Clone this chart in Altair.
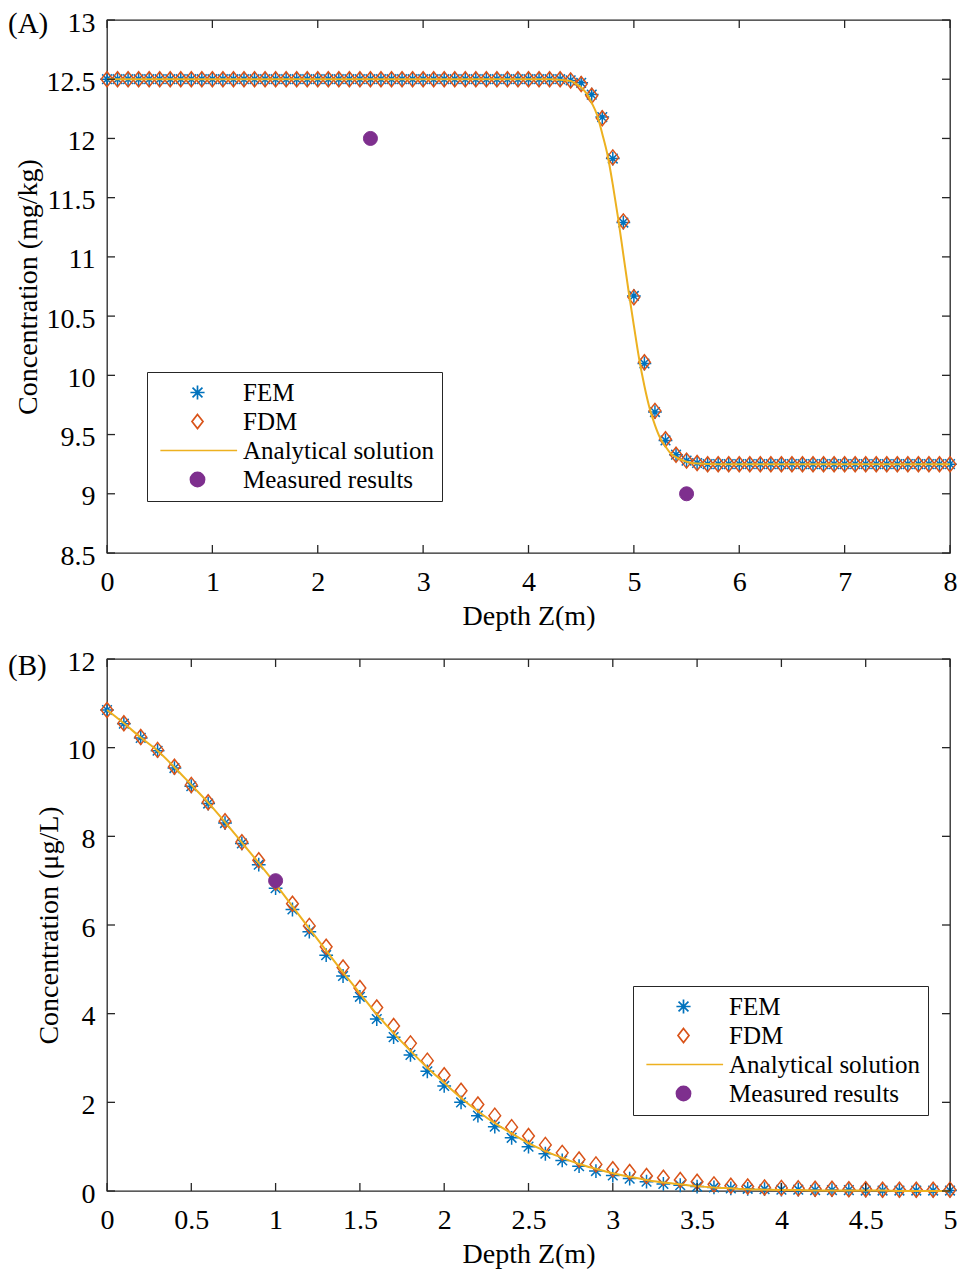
import altair as alt
import pandas as pd

FONT = "Liberation Serif"
INK = "#262626"

# ---------------- Panel A data ----------------
x_A = [round(i * 0.1, 1) for i in range(81)]          # depth grid 0..8, step 0.1
fem_A = [
    12.5, 12.5, 12.5, 12.5, 12.5, 12.5, 12.5, 12.5, 12.5, 12.5,
    12.5, 12.5, 12.5, 12.5, 12.5, 12.5, 12.5, 12.5, 12.5, 12.5,
    12.5, 12.5, 12.5, 12.5, 12.5, 12.5, 12.5, 12.5, 12.5, 12.5,
    12.5, 12.5, 12.5, 12.5, 12.5, 12.5, 12.5, 12.5, 12.5, 12.5,
    12.5, 12.5, 12.5, 12.5, 12.49, 12.47, 12.37, 12.18, 11.83, 11.29,
    10.67, 10.10, 9.69, 9.45, 9.33, 9.28, 9.26, 9.25, 9.25, 9.25,
    9.25, 9.25, 9.25, 9.25, 9.25, 9.25, 9.25, 9.25, 9.25, 9.25,
    9.25, 9.25, 9.25, 9.25, 9.25, 9.25, 9.25, 9.25, 9.25, 9.25,
    9.25,
]
fdm_A = [
    12.5, 12.5, 12.5, 12.5, 12.5, 12.5, 12.5, 12.5, 12.5, 12.5,
    12.5, 12.5, 12.5, 12.5, 12.5, 12.5, 12.5, 12.5, 12.5, 12.5,
    12.5, 12.5, 12.5, 12.5, 12.5, 12.5, 12.5, 12.5, 12.5, 12.5,
    12.5, 12.5, 12.5, 12.5, 12.5, 12.5, 12.5, 12.5, 12.5, 12.5,
    12.5, 12.5, 12.5, 12.5, 12.49, 12.46, 12.36, 12.17, 11.84, 11.30,
    10.66, 10.11, 9.70, 9.46, 9.33, 9.28, 9.26, 9.25, 9.25, 9.25,
    9.25, 9.25, 9.25, 9.25, 9.25, 9.25, 9.25, 9.25, 9.25, 9.25,
    9.25, 9.25, 9.25, 9.25, 9.25, 9.25, 9.25, 9.25, 9.25, 9.25,
    9.25,
]
an_A_x = [0.0, 1.0, 2.0, 3.0, 4.0, 4.2, 4.3, 4.4, 4.45, 4.5, 4.55, 4.6, 4.65, 4.7,
          4.75, 4.8, 4.85, 4.9, 4.95, 5.0, 5.05, 5.1, 5.15, 5.2, 5.25, 5.3, 5.35,
          5.4, 5.5, 5.6, 5.8, 6.0, 7.0, 8.0]
an_A_y = [12.5, 12.5, 12.5, 12.5, 12.5, 12.5, 12.495, 12.485, 12.46, 12.43, 12.38,
          12.30, 12.20, 12.04, 11.86, 11.61, 11.33, 11.02, 10.71, 10.42, 10.14, 9.91,
          9.72, 9.58, 9.47, 9.40, 9.34, 9.31, 9.27, 9.255, 9.25, 9.25, 9.25, 9.25]
meas_A_x = [2.5, 5.5]
meas_A_y = [12.0, 9.0]
xticks_A = [0, 1, 2, 3, 4, 5, 6, 7, 8]
yticks_A = [8.5, 9, 9.5, 10, 10.5, 11, 11.5, 12, 12.5, 13]

# ---------------- Panel B data ----------------
x_B = [round(i * 0.1, 1) for i in range(51)]          # depth grid 0..5, step 0.1
fem_B = [
    10.85, 10.54, 10.22, 9.93, 9.54, 9.13, 8.74, 8.30, 7.84, 7.36,
    6.83, 6.35, 5.85, 5.32, 4.85, 4.38, 3.88, 3.47, 3.07, 2.70,
    2.37, 2.00, 1.70, 1.45, 1.20, 1.00, 0.84, 0.69, 0.56, 0.45,
    0.35, 0.28, 0.21, 0.16, 0.13, 0.10, 0.08, 0.06, 0.05, 0.04,
    0.03, 0.03, 0.02, 0.02, 0.02, 0.01, 0.01, 0.01, 0.01, 0.01,
    0.01,
]
fdm_B = [
    10.85, 10.55, 10.24, 9.95, 9.57, 9.16, 8.77, 8.34, 7.87, 7.46,
    6.96, 6.48, 5.98, 5.51, 5.04, 4.58, 4.14, 3.72, 3.33, 2.94,
    2.61, 2.26, 1.95, 1.70, 1.44, 1.24, 1.04, 0.86, 0.71, 0.60,
    0.49, 0.43, 0.34, 0.30, 0.25, 0.21, 0.15, 0.12, 0.10, 0.08,
    0.07, 0.06, 0.05, 0.05, 0.04, 0.04, 0.03, 0.03, 0.03, 0.03,
    0.03,
]
an_B = [
    10.85, 10.55, 10.23, 9.93, 9.56, 9.16, 8.76, 8.32, 7.86, 7.40,
    6.92, 6.42, 5.92, 5.42, 4.93, 4.46, 3.99, 3.56, 3.16, 2.78,
    2.44, 2.10, 1.80, 1.53, 1.30, 1.08, 0.90, 0.75, 0.61, 0.50,
    0.40, 0.32, 0.25, 0.19, 0.15, 0.11, 0.08, 0.06, 0.04, 0.03,
    0.02, 0.02, 0.01, 0.01, 0.01, 0.01, 0.01, 0.0, 0.0, 0.0,
    0.0,
]
meas_B_x = [1.0]
meas_B_y = [7.0]
xticks_B = [0, 0.5, 1, 1.5, 2, 2.5, 3, 3.5, 4, 4.5, 5]
yticks_B = [0, 2, 4, 6, 8, 10, 12]

# ---------------- styling ----------------
SERIES = ["FEM", "FDM", "Analytical solution", "Measured results"]
STROKES = ["#0072BD", "#D95319", "#EDB120", "#7E2F8E"]
FILLS = ["transparent", "transparent", "transparent", "#7E2F8E"]
ASTER = "M-1,0L1,0M0,-1L0,1M-0.7,-0.7L0.7,0.7M-0.7,0.7L0.7,-0.7"
DIAMOND = "M0,-1L0.78,0L0,1L-0.78,0Z"
LEGLINE = "M-5.25,0L5.6,0"
SHAPES = [ASTER, DIAMOND, LEGLINE, "circle"]

W = 843
TL = 8  # inward tick length


def panel(x, fem, fdm, anx, any_, mx, my, xdom, ydom, xticks, yticks, ytitle,
          tag, tag_y, legx, legy, H):
    xs = alt.Scale(domain=xdom, nice=False, zero=False)
    ys = alt.Scale(domain=ydom, nice=False, zero=False)
    xax = alt.Axis(values=xticks, format="~g", title="Depth Z(m)")
    yax = alt.Axis(values=yticks, format="~g", title=ytitle)
    leg = alt.Legend(
        orient="none", legendX=legx, legendY=legy, direction="vertical", title=None,
        strokeColor=INK, fillColor="white", padding=8, labelFont=FONT,
        labelFontSize=25, labelColor="black", symbolStrokeWidth=1.7,
        symbolSize=200, symbolOffset=30, labelOffset=33,
        rowPadding=3, labelLimit=0,
    )

    def enc():
        return dict(
            x=alt.X("x:Q", scale=xs, axis=xax),
            y=alt.Y("y:Q", scale=ys, axis=yax),
            shape=alt.Shape("series:N", scale=alt.Scale(domain=SERIES, range=SHAPES), legend=leg),
            stroke=alt.Stroke("series:N", scale=alt.Scale(domain=SERIES, range=STROKES), legend=leg),
            fill=alt.Fill("series:N", scale=alt.Scale(domain=SERIES, range=FILLS), legend=leg),
        )

    df_fem = pd.DataFrame({"x": x, "y": fem, "series": "FEM"})
    df_fdm = pd.DataFrame({"x": x, "y": fdm, "series": "FDM"})
    df_an = pd.DataFrame({"x": anx, "y": any_})
    df_me = pd.DataFrame({"x": mx, "y": my, "series": "Measured results"})

    fem_l = alt.Chart(df_fem).mark_point(size=190, strokeWidth=1.5, opacity=1).encode(**enc())
    fdm_l = alt.Chart(df_fdm).mark_point(size=225, strokeWidth=1.5, opacity=1).encode(**enc())
    line_l = alt.Chart(df_an).mark_line(color="#EDB120", strokeWidth=2, interpolate="monotone").encode(
        x=alt.X("x:Q", scale=xs, axis=xax), y=alt.Y("y:Q", scale=ys, axis=yax))
    me_l = alt.Chart(df_me).mark_point(size=196, strokeWidth=1, opacity=1).encode(**enc())

    xt = pd.DataFrame({"x": xticks})
    yt = pd.DataFrame({"y": yticks})
    rule = dict(color=INK, strokeWidth=1.3)
    tb = alt.Chart(xt).mark_rule(**rule).encode(
        x=alt.X("x:Q", scale=xs, axis=xax), y=alt.value(H), y2=alt.value(H - TL))
    tt = alt.Chart(xt).mark_rule(**rule).encode(
        x=alt.X("x:Q", scale=xs, axis=xax), y=alt.value(0), y2=alt.value(TL))
    tlft = alt.Chart(yt).mark_rule(**rule).encode(
        y=alt.Y("y:Q", scale=ys, axis=yax), x=alt.value(0), x2=alt.value(TL))
    trgt = alt.Chart(yt).mark_rule(**rule).encode(
        y=alt.Y("y:Q", scale=ys, axis=yax), x=alt.value(W), x2=alt.value(W - TL))

    tag_l = alt.Chart(pd.DataFrame({"t": [tag]})).mark_text(
        align="left", baseline="middle", font=FONT, fontSize=29, color="black"
    ).encode(x=alt.value(-99), y=alt.value(tag_y), text="t:N")

    return alt.layer(fem_l, fdm_l, line_l, me_l, tb, tt, tlft, trgt, tag_l).properties(
        width=W, height=H)


pA = panel(x_A, fem_A, fdm_A, an_A_x, an_A_y, meas_A_x, meas_A_y, [0, 8], [8.5, 13],
           xticks_A, yticks_A, "Concentration (mg/kg)", "(A)", 4, 40, 352, 533)
pB = panel(x_B, fem_B, fdm_B, x_B, an_B, meas_B_x, meas_B_y, [0, 5], [0, 12],
           xticks_B, yticks_B, "Concentration (μg/L)", "(B)", 7, 526, 327, 532)

chart = alt.vconcat(pA, pB, spacing=16).resolve_scale(
    shape="independent", stroke="independent", fill="independent"
).resolve_legend(
    shape="independent", stroke="independent", fill="independent"
).properties(
    padding={"left": -1, "top": 0, "right": 0, "bottom": 0}
).configure_axis(
    labelFont=FONT, titleFont=FONT, labelFontSize=28, titleFontSize=28,
    labelColor="black", titleColor="black", titleFontWeight="normal",
    ticks=False, tickSize=0, domain=False, grid=False, labelFlush=False,
).configure_axisX(labelPadding=15, titlePadding=6).configure_axisY(
    labelPadding=12, titlePadding=4, labelOffset=3
).configure_view(stroke=INK, strokeWidth=1.3)

chart.save("out.html", embed_options={"renderer": "svg", "actions": False})
